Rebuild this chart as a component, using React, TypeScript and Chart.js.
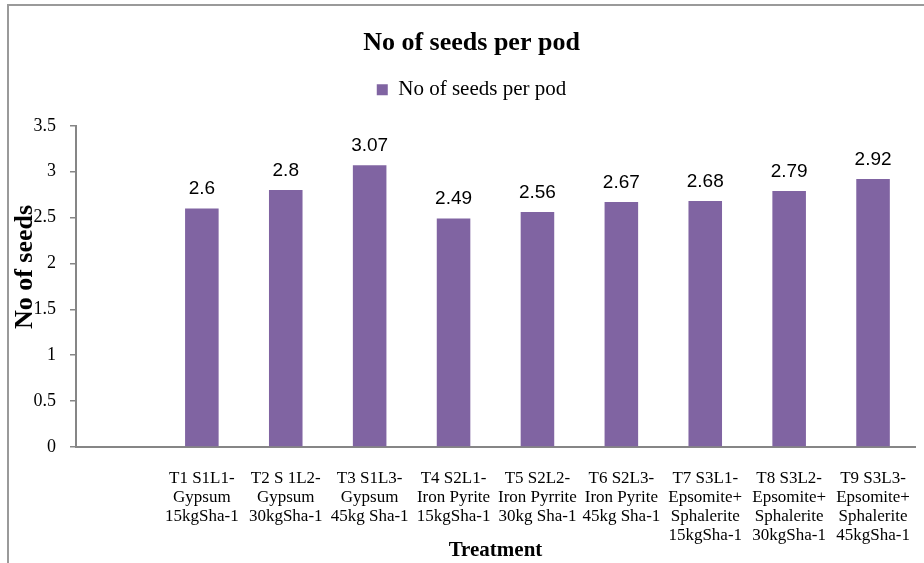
import React, { useEffect, useRef } from "react";
import { Chart, registerables } from "chart.js";

Chart.register(...registerables);

// ---------- data ----------
const chartTitle = "No of seeds per pod";
const seriesName = "No of seeds per pod";
const xAxisTitle = "Treatment";
const yAxisTitle = "No of seeds";

// first category is an empty slot (as in the original chart)
const categories: (string | string[])[] = [
  "",
  ["T1 S1L1-", "Gypsum", "15kgSha-1"],
  ["T2 S 1L2-", "Gypsum", "30kgSha-1"],
  ["T3 S1L3-", "Gypsum", "45kg Sha-1"],
  ["T4 S2L1-", "Iron Pyrite", "15kgSha-1"],
  ["T5 S2L2-", "Iron Pyrrite", "30kg Sha-1"],
  ["T6 S2L3-", "Iron Pyrite", "45kg Sha-1"],
  ["T7 S3L1-", "Epsomite+", "Sphalerite", "15kgSha-1"],
  ["T8 S3L2-", "Epsomite+", "Sphalerite", "30kgSha-1"],
  ["T9 S3L3-", "Epsomite+", "Sphalerite", "45kgSha-1"],
];

const seedsPerPod: (number | null)[] = [null, 2.6, 2.8, 3.07, 2.49, 2.56, 2.67, 2.68, 2.79, 2.92];

const yMin = 0;
const yMax = 3.5;
const yStep = 0.5;

// ---------- styles ----------
const BAR_COLOR = "#8064A2";
const AXIS_COLOR = "#868686";
const SERIF = "'Liberation Serif', 'Times New Roman', serif";
const SANS = "'Liberation Sans', Arial, sans-serif";
const LEGEND_GAP = 15.6;

const legendGapPlugin = {
  id: "legendGap",
  afterInit(chart: any) {
    const lg = chart.legend;
    if (lg && !lg.__gapPatched) {
      const fit = lg.fit.bind(lg);
      lg.fit = function () {
        fit();
        this.height += LEGEND_GAP;
      };
      lg.__gapPatched = true;
    }
  },
};

const dataLabelPlugin = {
  id: "dataLabels",
  afterDatasetsDraw(chart: any) {
    const ctx = chart.ctx;
    const meta = chart.getDatasetMeta(0);
    const data = chart.data.datasets[0].data;
    ctx.save();
    ctx.font = `19px ${SANS}`;
    ctx.fillStyle = "#000";
    ctx.textAlign = "center";
    ctx.textBaseline = "alphabetic";
    meta.data.forEach((bar: any, i: number) => {
      const v = data[i];
      if (v === null || v === undefined) return;
      ctx.fillText(String(v), bar.x, bar.y - 14);
    });
    ctx.restore();
  },
};

const yTitlePlugin = {
  id: "yTitle",
  afterDraw(chart: any) {
    const ctx = chart.ctx;
    ctx.save();
    ctx.translate(25, 267);
    ctx.rotate(-Math.PI / 2);
    ctx.font = `bold 26px ${SERIF}`;
    ctx.fillStyle = "#000";
    ctx.textAlign = "center";
    ctx.textBaseline = "middle";
    ctx.fillText(yAxisTitle, 0, 0);
    ctx.restore();
  },
};

export default function App() {
  const canvasRef = useRef<HTMLCanvasElement | null>(null);

  useEffect(() => {
    if (!canvasRef.current) return;
    const chart = new Chart(canvasRef.current, {
      type: "bar",
      data: {
        labels: categories,
        datasets: [
          {
            label: seriesName,
            data: seedsPerPod,
            backgroundColor: BAR_COLOR,
            borderWidth: 0,
            categoryPercentage: 1,
            barPercentage: 0.4,
          },
        ],
      },
      options: {
        animation: false,
        responsive: false,
        devicePixelRatio: 1,
        layout: { padding: { left: 28, right: 9, top: 0, bottom: 1 } },
        plugins: {
          title: {
            display: true,
            text: chartTitle,
            color: "#000",
            font: { family: SERIF, size: 26, weight: "bold", lineHeight: 1.2 },
            padding: { top: 28, bottom: 0 },
          },
          legend: {
            display: true,
            position: "top",
            labels: {
              color: "#000",
              font: { family: SERIF, size: 21 },
              boxWidth: 11,
              boxHeight: 11,
              padding: 20,
            },
          },
          tooltip: { enabled: false },
        },
        scales: {
          x: {
            afterFit: (s: any) => {
              s.height = 115;
              s.paddingLeft = 0;
              s.paddingRight = 0;
            },
            grid: { display: false, drawTicks: false },
            border: { display: true, color: AXIS_COLOR, width: 2 },
            ticks: {
              color: "#000",
              font: { family: SERIF, size: 17, lineHeight: 19 / 17 },
              padding: 22,
              autoSkip: false,
              maxRotation: 0,
              minRotation: 0,
            },
            title: {
              display: true,
              text: xAxisTitle,
              color: "#000",
              font: { family: SERIF, size: 21, weight: "bold", lineHeight: 1.1 },
              padding: { top: 0, bottom: 0 },
            },
          },
          y: {
            min: yMin,
            max: yMax,
            afterFit: (s: any) => {
              s.width = 48;
            },
            grid: {
              drawOnChartArea: false,
              drawTicks: true,
              tickLength: 6,
              tickColor: AXIS_COLOR,
              color: AXIS_COLOR,
              lineWidth: 1.5,
            },
            border: { display: true, color: AXIS_COLOR, width: 2 },
            ticks: {
              stepSize: yStep,
              color: "#000",
              font: { family: SERIF, size: 18 },
              padding: 14,
              callback: (v: any) => String(Number(v)),
            },
          },
        },
      },
      plugins: [legendGapPlugin, dataLabelPlugin, yTitlePlugin],
    } as any);
    return () => chart.destroy();
  }, []);

  return (
    <div
      style={{
        position: "fixed",
        left: 0,
        top: 0,
        width: 924,
        height: 563,
        background: "#fff",
        overflow: "hidden",
      }}
    >
      <div
        style={{
          position: "absolute",
          left: 7,
          top: 4,
          width: 940,
          height: 580,
          borderTop: "2px solid #9a9a9a",
          borderLeft: "2px solid #9a9a9a",
          boxSizing: "border-box",
        }}
      />
      <canvas
        ref={canvasRef}
        width={924}
        height={563}
        style={{ position: "absolute", left: 0, top: 0, width: 924, height: 563 }}
      />
    </div>
  );
}
